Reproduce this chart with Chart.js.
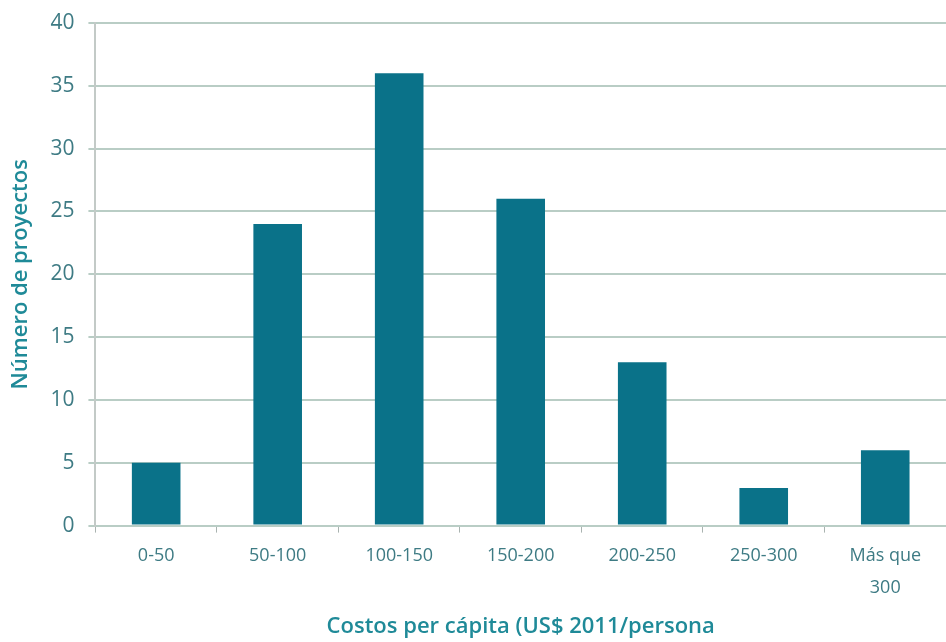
<!DOCTYPE html>
<html>
<head>
<meta charset="utf-8">
<script src="https://cdn.jsdelivr.net/npm/chart.js@4/dist/chart.umd.min.js"></script>
<style>
  html, body { margin: 0; padding: 0; background: #fff; }
  #wrap { width: 946px; height: 642px; position: relative; }
</style>
</head>
<body>
<div id="wrap"><canvas id="c"></canvas></div>
<script>
const categories = ['0-50', '50-100', '100-150', '150-200', '200-250', '250-300', ['Más que', '300']]
const proyectos = [5, 24, 36, 26, 13, 3, 6]

const barColor = '#0a7289'
const gridColor = '#b9cdc5'
const tickColor = '#3e7b84'
const titleColor = '#1f8a98'
const fontName = '"Open Sans"'

const ctx = document.getElementById('c').getContext('2d')

let chart = new Chart(ctx, {
    type: 'bar',
    data: {
        labels: categories,
        datasets: [{
            data: proyectos,
            backgroundColor: barColor,
            borderWidth: 0,
            barPercentage: 0.4,
            categoryPercentage: 1
        }]
    },
    options: {
        responsive: true,
        maintainAspectRatio: false,
        animation: false,
        layout: { padding: { top: 2, right: 0, bottom: 2, left: 8 } },
        plugins: {
            legend: { display: false },
            tooltip: { enabled: false }
        },
        scales: {
            x: {
                grid: {
                    display: true,
                    drawOnChartArea: false,
                    tickLength: 7,
                    color: '#a9b3b0',
                    offset: true
                },
                border: { color: gridColor, width: 2 },
                ticks: {
                    color: tickColor,
                    font: { family: fontName, size: 18, lineHeight: 1.75 },
                    padding: 8,
                    maxRotation: 0
                },
                title: {
                    display: true,
                    text: 'Costos per cápita (US$ 2011/persona',
                    color: titleColor,
                    font: { family: fontName, size: 22, weight: '600' },
                    padding: { top: 2, bottom: 0 }
                }
            },
            y: {
                min: 0,
                max: 40,
                ticks: {
                    stepSize: 5,
                    color: tickColor,
                    font: { family: fontName, size: 21, lineHeight: 0.85 },
                    padding: 14
                },
                grid: {
                    color: gridColor,
                    lineWidth: 2,
                    tickLength: 7
                },
                border: { color: '#c3cac7', width: 2 },
                title: {
                    display: true,
                    text: 'Número de proyectos',
                    color: titleColor,
                    font: { family: fontName, size: 22, weight: '600' },
                    padding: { top: 0, bottom: 2 }
                }
            }
        }
    }
})
</script>
</body>
</html>
